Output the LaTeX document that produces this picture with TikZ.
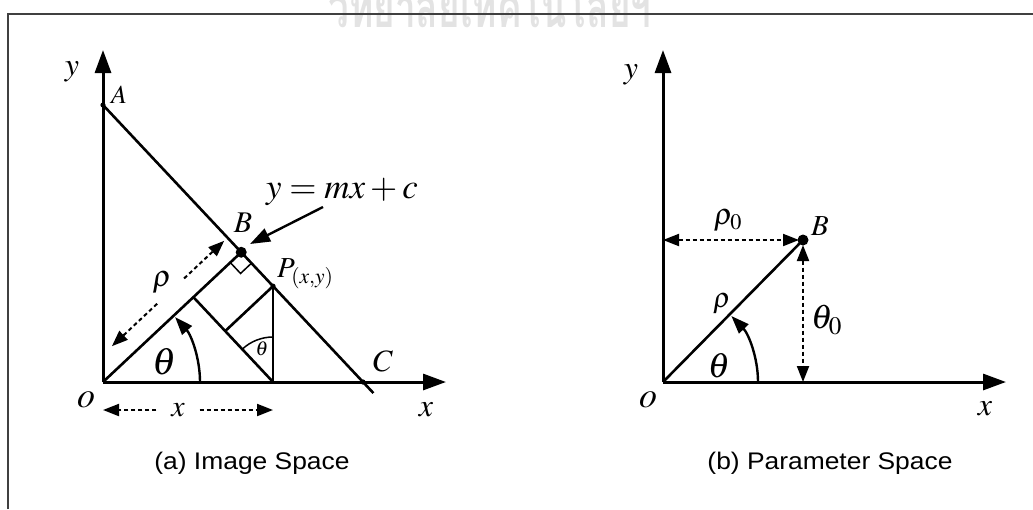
\documentclass[tikz,border=0pt]{standalone}
\usepackage{mathptmx}
\usepackage{fontspec}
\setmainfont{Liberation Serif}
\setsansfont{Liberation Sans}
\newfontfamily\capfont[FakeStretch=1.1]{Liberation Sans}
\newfontfamily\thaifont[Script=Thai,FakeStretch=0.66]{Loma}
\usetikzlibrary{arrows.meta,calc}
\newcommand{\fsz}[1]{\fontsize{#1}{#1}\selectfont}

\begin{document}
\begin{tikzpicture}[
					x=1pt,y=1pt,
					axis/.style={line width=3pt,-{Triangle[length=23pt,width=16pt]}},
					edge/.style={line width=2.6pt},
					thinedge/.style={line width=1.5pt},
					dimarrow/.style={line width=2pt,dash pattern=on 4pt off 3pt,>={Triangle[length=16pt,width=12pt]},->},
					dimboth/.style={dimarrow,<->},
					anglearrow/.style={line width=2.4pt,-{Triangle[length=18pt,width=13pt]}},
					ptarrow/.style={line width=2.4pt,-{Triangle[length=20pt,width=14pt]}},
					lbl/.style={inner sep=0pt,font=\fsz{#1}},lbl/.default=28,
					capnode/.style={inner sep=0pt,font=\capfont\fsz{24}},
					wmark/.style={inner sep=0pt,anchor=base,text=gray!22,font=\thaifont\bfseries\fsz{56}},
					framed/.style={draw=black!75,line width=1.8pt}
					]
					\useasboundingbox (0,0) rectangle (1033,-509);
					\node[wmark] (wm) at (490,-27) {วิทยาลัยเทคโนโลยีฯ};
					\draw[framed] (8,-509) -- (8,-14) -- (1033,-14);

					\coordinate (o1) at (103,-382);
					\coordinate (y1) at (103,-50);
					\coordinate (x1) at (446,-382);
					\coordinate (a) at (103,-105);
					\coordinate (c) at (363,-382);
					\coordinate (cend) at ($(a)!1.04!(c)$);
					\coordinate (b1) at ($(a)!(o1)!(c)$);
					\coordinate (p) at ($(a)!0.654!(c)$);
					\coordinate (v) at (p |- o1);
					\coordinate (vq) at ($(v)+(a)-(c)$);
					\coordinate (q) at (intersection of o1--b1 and v--vq);
					\coordinate (f) at ($(v)!(p)!(q)$);
					\coordinate (r1) at ($(b1)!15pt!(o1)$);
					\coordinate (r3) at ($(b1)!15pt!(c)$);
					\coordinate (r2) at ($(r1)+(r3)-(b1)$);

					\draw[axis] (o1) -- (y1);
					\draw[axis] (o1) -- (x1);
					\draw[edge] (a) -- (cend);
					\draw[edge] (o1) -- (b1);
					\draw[edge] (p) -- (v);
					\draw[edge] (q) -- (v);
					\draw[edge] (p) -- (f);
					\draw[thinedge] (r1) -- (r2) -- (r3);
					\fill (b1) circle (5.5);
					\foreach \pt in {a,p,c}{
						\fill (\pt) circle (2.6);
					}
					\draw[anglearrow] ($(o1)+(97,0)$) arc[start angle=0,end angle=42,radius=97];
					\draw[thinedge] ($(v)+(0,45)$) arc[start angle=90,end angle=133,radius=45];

					\coordinate (rt1) at ($(o1)!31pt!(b1)!20pt!90:(b1)$);
					\coordinate (rg1) at ($(o1)!93pt!(b1)!20pt!90:(b1)$);
					\coordinate (rg2) at ($(o1)!130pt!(b1)!20pt!90:(b1)$);
					\coordinate (rt2) at ($(o1)!185pt!(b1)!20pt!90:(b1)$);
					\draw[dimarrow] (rg1) -- (rt1);
					\draw[dimarrow] (rg2) -- (rt2);
					\node[lbl=30] (rholab1) at (162,-283) {$\rho$};

					\node[lbl=30,minimum width=43pt] (xdim) at (178,-410) {$x$};
					\coordinate (xdl) at (103,-410);
					\coordinate (xdr) at (273,-410);
					\draw[dimarrow] (xdim.west) -- (xdl);
					\draw[dimarrow] (xdim.east) -- (xdr);

					\node[lbl=32] (ylab1) at (72,-72) {$y$};
					\node[lbl=26] (alab) at (119,-95) {$A$};
					\node[lbl=30] (blab1) at (243,-223) {$B$};
					\node[lbl=31] (clab) at (383,-361) {$C$};
					\node[lbl=29,anchor=west] (plab) at (277,-274) {$P_{(x,y)}$};
					\node[lbl=35] (eqlab) at (342,-192) {$y=mx+c$};
					\coordinate (eqtail) at (323,-207);
					\coordinate (eqtip) at (250,-244);
					\draw[ptarrow] (eqtail) -- (eqtip);
					\node[lbl=38] (thlab1) at (165,-362) {$\theta$};
					\node[lbl=20] (thsm) at (262,-349) {$\theta$};
					\node[lbl=36] (olab1) at (86,-400) {$o$};
					\node[lbl=32] (xlab1) at (426,-410) {$x$};
					\node[capnode] (capa) at (252,-463) {(a) Image Space};

					\coordinate (o2) at (663,-382);
					\coordinate (y2) at (663,-50);
					\coordinate (x2) at (1006,-382);
					\coordinate (b2) at (803,-240);
					\coordinate (rl) at (o2 |- b2);
					\coordinate (tb) at (b2 |- o2);

					\draw[axis] (o2) -- (y2);
					\draw[axis] (o2) -- (x2);
					\draw[edge] (o2) -- (b2);
					\fill (b2) circle (5.5);
					\draw[dimboth,shorten >=4pt] (rl) -- (b2);
					\draw[dimboth,shorten <=5pt] (b2) -- (tb);
					\draw[anglearrow] ($(o2)+(95,0)$) arc[start angle=0,end angle=44,radius=95];

					\node[lbl=30] (rholab2) at (728,-221) {$\rho_0$};
					\node[lbl=29] (blab2) at (820,-226) {$B$};
					\node[lbl=34,anchor=west] (th0lab) at (811,-320) {$\theta_0$};
					\node[lbl=28] (rholab3) at (722,-304) {$\rho$};
					\node[lbl=35] (thlab2) at (719,-366) {$\theta$};
					\node[lbl=36] (olab2) at (648,-400) {$o$};
					\node[lbl=32] (xlab2) at (985,-409) {$x$};
					\node[lbl=32] (ylab2) at (631,-75) {$y$};
					\node[capnode] (capb) at (830,-463) {(b) Parameter Space};
				\end{tikzpicture}
\end{document}
